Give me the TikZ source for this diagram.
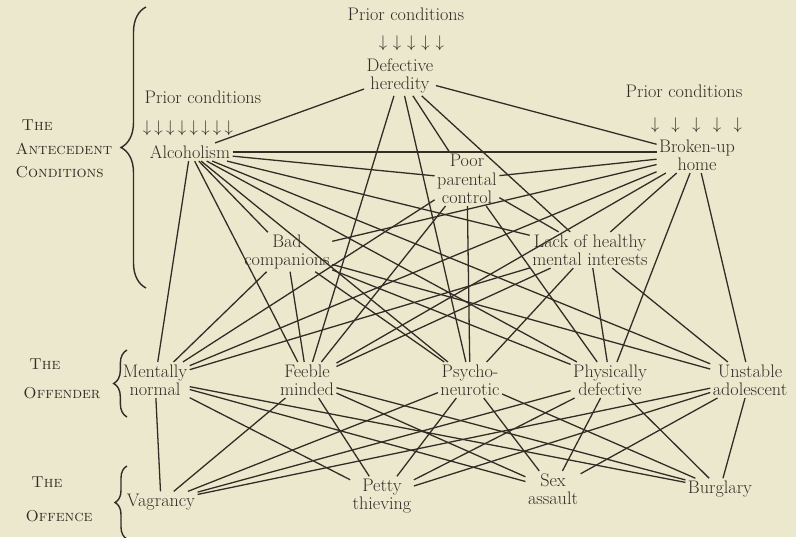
\documentclass[tikz,border=0pt]{standalone}
\usepackage{tikz}
\usetikzlibrary{decorations.pathreplacing}
\definecolor{paper}{RGB}{236,232,206}
\definecolor{ink}{RGB}{48,45,38}

\begin{document}
\begin{tikzpicture}[x=3mm,y=-3mm,inner sep=2pt]
  \fill[paper](0,0)rectangle(79.6,53.7);
  \useasboundingbox(0,0)rectangle(79.6,53.7);
  \tikzstyle{v}=[align=center,text=ink,font=\fontsize{15.5}{15.5}\selectfont]
  \tikzstyle{lbl}=[align=left,text=ink,inner sep=0pt]
  \tikzstyle{br}=[decorate,draw=ink,line width=1.2pt]
  % antecedent conditions
  \node[v](pc1)at(40.6,1.4){Prior conditions};
  \foreach\i in{0,...,4}{\node[v](t\i)at(38.3+1.42*\i,4.3){$\downarrow$};}
  \node[v](her)at(40,7.6){Defective\\heredity};
  \node[v](pc2)at(20.3,9.7){Prior conditions};
  \foreach\i in{0,...,7}{\node[v](l\i)at(14.7+1.17*\i,12.8){$\downarrow$};}
  \node[v](alc)at(19,15.2){Alcoholism};
  \node[v](pc3)at(68.4,9.1){Prior conditions};
  \foreach\i in{0,...,4}{\node[v](r\i)at(65.5+2.07*\i,12.5){$\downarrow$};}
  \node[v](brk)at(69.7,15.5){Broken-up\\home};
  \node[v](ppc)at(46.7,17.9){Poor\\parental\\control};
  \node[v](bad)at(28.7,25.2){Bad\\companions};
  \node[v](lack)at(59,25){Lack of healthy\\mental interests};
  % offenders
  \node[v](mn)at(15.5,38){Mentally\\normal};
  \node[v](fm)at(30.7,38){Feeble\\minded};
  \node[v](pn)at(47,38){Psycho-\\neurotic};
  \node[v](pd)at(61,38){Physically\\defective};
  \node[v](ua)at(75,38){Unstable\\adolescent};
  % offences
  \node[v](vag)at(16.1,50.2){Vagrancy};
  \node[v](pet)at(38.2,49.6){Petty\\thieving};
  \node[v](sex)at(55.3,48.9){Sex\\assault};
  \node[v](bur)at(72,48.9){Burglary};
  % side labels and braces
  \node[lbl,font=\fontsize{13.5}{20}\selectfont\scshape](hant)at(6.4,14.9){\ The\\Antecedent\\Conditions};
  \node[lbl,font=\fontsize{13.5}{25}\selectfont\scshape](hofr)at(6.2,37.9){\ The\\Offender};
  \node[lbl,font=\fontsize{13.5}{29}\selectfont\scshape](hofe)at(5.9,49.9){\ The\\Offence};
  \draw[br,decoration={brace,amplitude=7.5mm}](14.6,28.8)--(14.6,0.7);
  \draw[br,decoration={brace,amplitude=4mm}](12.7,41.7)--(12.7,35.0);
  \draw[br,decoration={brace,amplitude=3.6mm}](12.7,53.9)--(12.7,46.6);
  \tikzstyle{e}=[draw=ink,line width=1.1pt]
  \draw[e](alc.east)--(alc.east-|brk.west);
  \foreach\o/\d in{her/alc,her/brk,her/ppc,her/lack,her/fm,her/pn,
    alc/ppc,alc/lack,alc/ua,alc/pd,alc/pn,alc/bad,alc/fm,alc/mn,
    brk/ppc,brk/bad,brk/lack,brk/mn,brk/fm,brk/pd,brk/ua,
    ppc/lack,ppc/mn,ppc/fm,ppc/pn,ppc/pd,
    bad/mn,bad/fm,bad/pn,bad/pd,bad/ua,
    lack/mn,lack/fm,lack/pn,lack/pd,lack/ua}{\draw[e](\o)--(\d);}
  \foreach\o in{mn,fm,pn,pd,ua}{\foreach\d in{vag,pet,sex,bur}{\draw[e](\o)--(\d);}}
\end{tikzpicture}
\end{document}
